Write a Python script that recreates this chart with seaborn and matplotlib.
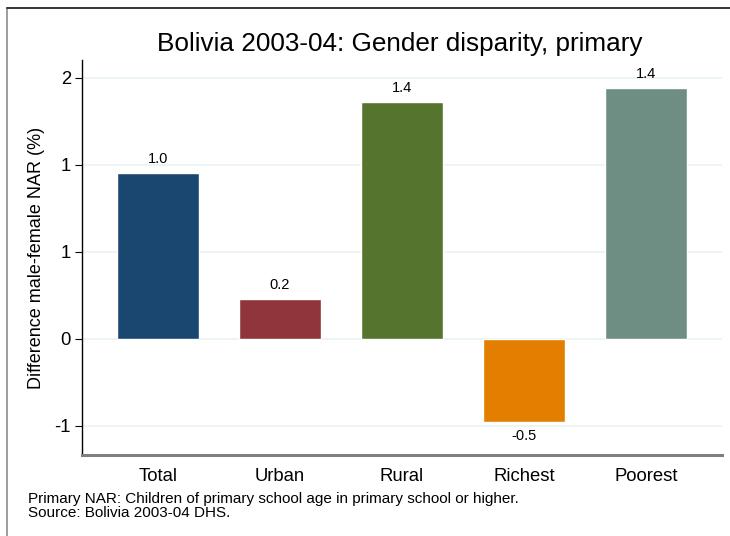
import pandas as pd
import seaborn as sns
import matplotlib.pyplot as plt
from matplotlib.lines import Line2D

# values
groups = ["Total", "Urban", "Rural", "Richest", "Poorest"]
disparity = [0.954, 0.23, 1.36, -0.48, 1.44]
bar_colors = ["#1a476f", "#90353b", "#55752f", "#e37e00", "#6e8e84"]
ytick_vals = [-0.5, 0, 0.5, 1.0, 1.5]
ytick_labels = ["-1", "0", "1", "1", "2"]

df = pd.DataFrame({"group": groups, "diff": disparity})

sns.set_style("white")
plt.rcParams['font.family'] = ['Liberation Sans', 'DejaVu Sans']
plt.rcParams['text.color'] = 'black'
plt.rcParams['axes.labelcolor'] = 'black'
plt.rcParams['xtick.color'] = 'black'
plt.rcParams['ytick.color'] = 'black'

fig = plt.figure(figsize=(7.3, 5.36), dpi=100)
ax = fig.add_axes([0.1123, 0.1511, 0.8767, 0.7369])

sns.barplot(data=df, x="group", y="diff", hue="group", palette=bar_colors,
            width=0.67, legend=False, saturation=1, ax=ax, zorder=3)

# value labels
for i, v in enumerate(disparity):
    if v >= 0:
        ax.text(i, v + 0.04, f"{v:.1f}", ha="center", va="bottom", fontsize=10.5)
    else:
        ax.text(i, v - 0.04, f"{v:.1f}", ha="center", va="top", fontsize=10.5)

ax.set_xlim(-0.623, 4.623)
ax.set_ylim(-0.667, 1.603)
ax.set_yticks(ytick_vals)
ax.set_yticklabels(ytick_labels, fontsize=13.3)
ax.tick_params(axis="y", length=5, width=0.8, color="black", left=True, pad=3)
ax.tick_params(axis="x", length=0, labelsize=13.3, pad=9)
ax.grid(axis="y", color="#eaf2f3", linewidth=1.2, zorder=0)
ax.set_axisbelow(True)
ax.set_xlabel("")
ax.set_ylabel("Difference male-female NAR (%)", fontsize=13, labelpad=7)

for s in ["top", "right"]:
    ax.spines[s].set_visible(False)
ax.spines["left"].set_color("black")
ax.spines["left"].set_linewidth(1)
ax.spines["bottom"].set_color("#7f7f7f")
ax.spines["bottom"].set_linewidth(2.2)

fig.text(0.548, 0.918, "Bolivia 2003-04: Gender disparity, primary",
         ha="center", va="center", fontsize=18.8)

fig.text(0.038, 0.069, "Primary NAR: Children of primary school age in primary school or higher.",
         ha="left", va="center", fontsize=11)
fig.text(0.038, 0.042, "Source: Bolivia 2003-04 DHS.", ha="left", va="center", fontsize=11)

# outer frame
fig.add_artist(Line2D([0.0095, 0.0095], [0, 0.986], color="#8c8c8c", linewidth=1.2, transform=fig.transFigure))
fig.add_artist(Line2D([0.0095, 1.0], [0.986, 0.986], color="#333333", linewidth=1.4, transform=fig.transFigure))

fig.savefig("out.png", dpi=100)
